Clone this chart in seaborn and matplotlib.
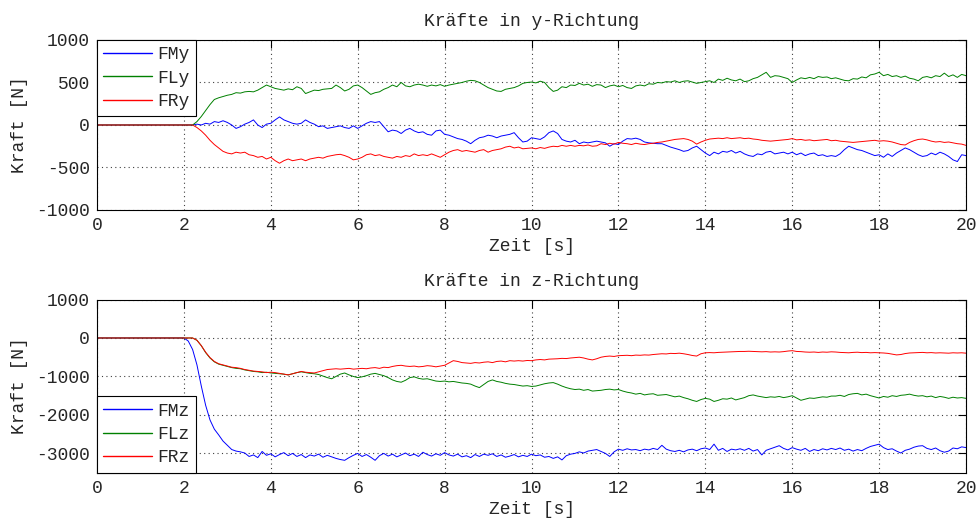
import numpy as np
import pandas as pd
import matplotlib
matplotlib.use("Agg")
import matplotlib.pyplot as plt
import seaborn as sns

# Zeitachse: 0 s und danach 2.0 ... 20.0 s in 0.1 s Schritten
zeit = np.concatenate([[0.0], np.round(np.arange(2.0, 20.05, 0.1), 1)])

# Kräfte in y-Richtung [N], Werte ab t = 2.0 s (vorher 0)
FMy = [0, 0, 0, 10, 0, 20, 10, 40, 30, 50,
       30, 0, -40, -20, 10, 30, 60, 0, -30, 10,
       20, 60, 95, 60, 40, 20, 10, 20, 60, 30,
       10, -20, -10, -40, -30, -20, -10, -30, -40, -10,
       -40, -10, 20, 40, 30, 40, -20, -80, -60, -70,
       -100, -60, -40, -70, -90, -80, -110, -120, -70, -60,
       -110, -120, -140, -160, -170, -190, -220, -180, -150, -140,
       -120, -130, -150, -130, -120, -110, -90, -150, -200, -190,
       -150, -160, -170, -140, -90, -70, -100, -170, -190, -200,
       -180, -220, -200, -210, -200, -190, -200, -210, -250, -220,
       -230, -190, -160, -165, -155, -170, -200, -210, -215, -220,
       -220, -240, -260, -275, -290, -310, -300, -270, -250, -290,
       -330, -360, -320, -340, -310, -320, -300, -330, -310, -340,
       -360, -370, -340, -350, -320, -310, -340, -330, -320, -340,
       -320, -350, -330, -360, -340, -330, -360, -350, -370, -360,
       -370, -340, -290, -250, -270, -290, -300, -320, -340, -360,
       -350, -380, -340, -370, -330, -300, -270, -290, -320, -350,
       -370, -360, -330, -350, -320, -340, -370, -410, -430, -350,
       -360]
FLy = [0, 0, 0, 40, 100, 170, 240, 300, 320, 335,
       350, 360, 380, 375, 390, 395, 390, 410, 440, 470,
       450, 430, 420, 410, 425, 415, 450, 430, 370, 390,
       410, 405, 420, 425, 430, 470, 440, 400, 420, 460,
       470, 440, 400, 360, 380, 390, 420, 440, 470, 450,
       500, 460, 450, 470, 480, 470, 455, 470, 460, 475,
       455, 470, 480, 490, 500, 515, 525, 520, 500, 470,
       440, 420, 400, 395, 420, 430, 440, 460, 490, 500,
       505, 495, 515, 500, 440, 395, 410, 450, 440, 470,
       465, 490, 470, 480, 455, 475, 470, 440, 460, 470,
       450, 465, 440, 430, 460, 470, 460, 485, 480, 500,
       495, 510, 505, 520, 500, 515, 520, 505, 490, 500,
       510, 520, 500, 540, 525, 550, 530, 520, 540, 510,
       520, 545, 560, 590, 620, 560, 580, 575, 560, 545,
       500, 530, 555, 545, 560, 545, 570, 560, 565, 545,
       555, 540, 525, 520, 545, 540, 565, 555, 590, 600,
       620, 580, 595, 570, 580, 560, 575, 550, 540, 520,
       560, 570, 555, 580, 570, 610, 570, 590, 560, 595,
       580]
FRy = [0, 0, 0, -30, -70, -120, -180, -230, -270, -310,
       -330, -340, -320, -330, -320, -350, -360, -380, -370, -400,
       -380, -420, -450, -420, -400, -420, -410, -400, -420, -400,
       -390, -380, -390, -370, -360, -350, -345, -360, -380, -410,
       -400, -380, -350, -340, -360, -350, -370, -380, -390, -370,
       -380, -360, -370, -340, -360, -350, -360, -340, -360, -380,
       -350, -320, -300, -290, -310, -300, -310, -320, -300, -290,
       -320, -300, -290, -280, -260, -250, -270, -260, -280, -275,
       -270, -280, -265, -275, -260, -250, -255, -240, -250, -240,
       -250, -240, -245, -235, -250, -245, -220, -230, -215, -225,
       -205, -215, -220, -230, -215, -225, -230, -220, -215, -205,
       -200, -190, -180, -170, -165, -160, -170, -190, -225, -200,
       -180, -165, -160, -155, -160, -150, -160, -155, -150, -160,
       -155, -165, -170, -180, -185, -190, -185, -180, -175, -170,
       -160, -175, -170, -180, -175, -185, -180, -175, -170, -185,
       -180, -190, -195, -200, -205, -200, -195, -190, -185, -180,
       -190, -185, -190, -200, -215, -230, -235, -205, -185, -170,
       -165, -175, -190, -200, -195, -205, -200, -210, -220, -225,
       -240]

# Kräfte in z-Richtung [N], Werte ab t = 2.0 s (vorher 0)
FMz = [0, -80, -300, -700, -1250, -1750, -2130, -2370, -2520, -2680,
       -2790, -2900, -2940, -2960, -2990, -3080, -3040, -3110, -2950, -3050,
       -3010, -3090, -3030, -2980, -3060, -3000, -3080, -3030, -3110, -3040,
       -3070, -3020, -3100, -3050, -3090, -3130, -3160, -3180, -3110, -3050,
       -3000, -3080, -3030, -3100, -3180, -3060, -3000, -3070, -3020, -3090,
       -3040, -2990, -3060, -3020, -3080, -2970, -3030, -3070, -3010, -3050,
       -2980, -3040, -3070, -3020, -3090, -3060, -3110, -3030, -3080, -3020,
       -3050, -3010, -3080, -3040, -3100, -3070, -3030, -3090, -3050, -3080,
       -3020, -3060, -3040, -3100, -3080, -3130, -3090, -3170, -3060, -3020,
       -3000, -2960, -2990, -2940, -2920, -2900, -2950, -3000, -3080, -2960,
       -2890, -2920, -2880, -2910, -2900, -2930, -2890, -2910, -2870, -2900,
       -2790, -2890, -2930, -2950, -2920, -2960, -2910, -2890, -2930, -2880,
       -2860, -2900, -2760, -2920, -2870, -2950, -2890, -2910, -2880, -2920,
       -2870, -2940, -2900, -3040, -2920, -2880, -2840, -2800, -2870, -2910,
       -2850, -2890, -2920, -2870, -2950, -2900, -2930, -2880, -2910, -2870,
       -2900, -2860, -2920, -2890, -2940, -2900, -2930, -2870, -2820, -2790,
       -2760, -2850, -2900, -2880, -2940, -2990, -2920, -2890, -2840, -2810,
       -2800, -2870, -2900, -2860, -2930, -2970, -2940, -2860, -2880, -2830,
       -2850]
FLz = [0, 0, 0, -60, -200, -380, -520, -620, -680, -710,
       -740, -770, -790, -800, -830, -850, -870, -880, -900, -890,
       -910, -920, -930, -940, -960, -930, -900, -880, -900, -920,
       -930, -950, -990, -1030, -1060, -1000, -940, -910, -960, -1000,
       -1030, -1010, -980, -940, -920, -950, -980, -1030, -1090, -1130,
       -1150, -1100, -1030, -1010, -1050, -1070, -1060, -1090, -1120, -1130,
       -1120, -1140, -1130, -1150, -1170, -1180, -1200, -1250, -1290, -1210,
       -1130, -1090, -1130, -1150, -1180, -1200, -1210, -1230, -1250, -1240,
       -1260, -1250, -1220, -1190, -1170, -1160, -1200, -1250, -1290, -1320,
       -1340, -1330, -1360, -1340, -1380, -1370, -1360, -1340, -1330, -1350,
       -1340, -1380, -1410, -1430, -1460, -1440, -1480, -1460, -1450, -1490,
       -1480, -1470, -1500, -1530, -1510, -1550, -1580, -1620, -1650, -1600,
       -1570, -1590, -1650, -1620, -1580, -1590, -1560, -1610, -1580, -1550,
       -1500, -1480, -1510, -1530, -1550, -1530, -1540, -1520, -1550, -1530,
       -1500, -1560, -1620, -1590, -1560, -1570, -1550, -1530, -1540, -1510,
       -1510, -1490, -1520, -1470, -1450, -1440, -1480, -1460, -1500, -1530,
       -1560, -1520, -1540, -1500, -1520, -1490, -1480, -1460, -1490, -1510,
       -1500, -1530, -1510, -1550, -1520, -1540, -1570, -1540, -1560, -1550,
       -1570]
FRz = [0, 0, 0, -60, -200, -370, -510, -610, -670, -700,
       -730, -760, -770, -790, -820, -840, -860, -870, -880, -900,
       -890, -900, -920, -940, -960, -930, -900, -870, -890, -900,
       -910, -880, -850, -820, -810, -800, -810, -800, -790, -810,
       -800, -790, -800, -780, -770, -790, -760, -770, -740, -720,
       -710, -730, -740, -730, -750, -740, -720, -730, -750, -730,
       -710, -650, -590, -610, -640, -650, -660, -640, -650, -630,
       -620, -640, -610, -600, -620, -590, -600, -590, -600, -585,
       -590, -570, -560, -570, -550, -545, -540, -530, -535, -520,
       -510, -500, -520, -550, -570, -540, -500, -480, -470, -480,
       -460, -455, -450, -460, -445, -450, -440, -445, -430, -420,
       -410, -415, -400, -405, -395, -410, -430, -455, -470, -410,
       -385, -380, -385, -375, -370, -365, -360, -355, -350, -350,
       -345, -350, -355, -360, -355, -365, -360, -365, -355, -340,
       -330, -350, -355, -365, -370, -365, -375, -365, -370, -360,
       -365, -375, -380, -385, -375, -370, -380, -375, -385, -380,
       -385, -390, -400, -420, -440, -430, -405, -390, -385, -380,
       -375, -385, -380, -390, -385, -390, -395, -385, -390, -385,
       -395]

farben = {"FMy": "#0000ff", "FLy": "#008000", "FRy": "#ff0000",
          "FMz": "#0000ff", "FLz": "#008000", "FRz": "#ff0000"}

def lang(serien):
    teile = []
    for name, werte in serien.items():
        teile.append(pd.DataFrame({"Zeit": zeit, "Kraft": [0] + list(werte), "Signal": name}))
    return pd.concat(teile, ignore_index=True)

df_y = lang({"FMy": FMy, "FLy": FLy, "FRy": FRy})
df_z = lang({"FMz": FMz, "FLz": FLz, "FRz": FRz})

sns.set_theme(style="white")
plt.rcParams["font.family"] = ["Liberation Mono", "DejaVu Sans Mono"]
plt.rcParams["axes.unicode_minus"] = False
plt.rcParams["font.size"] = 13

fig = plt.figure(figsize=(9.76, 5.18), dpi=100)
ax1 = fig.add_axes([0.0994, 0.5946, 0.8904, 0.3282])
ax2 = fig.add_axes([0.0994, 0.0876, 0.8904, 0.3342])

def panel(ax, df, titel, ylim, yticks, legend_loc):
    sns.lineplot(data=df, x="Zeit", y="Kraft", hue="Signal", palette=farben,
                 hue_order=list(df["Signal"].unique()), linewidth=0.7,
                 estimator=None, ax=ax)
    ax.set_xlim(0, 20)
    ax.set_ylim(*ylim)
    ax.set_xticks(range(0, 21, 2))
    ax.set_yticks(yticks)
    ax.set_title(titel, fontsize=13, pad=10)
    ax.set_xlabel("Zeit [s]", fontsize=13, labelpad=3)
    ax.set_ylabel("Kraft [N]", fontsize=13, labelpad=6)
    ax.tick_params(direction="in", top=True, right=True, length=6,
                   width=0.8, labelsize=13, pad=5, color="black")
    ax.grid(True, linestyle=(0, (1, 3)), color="0.25", linewidth=0.8)
    for s in ax.spines.values():
        s.set_color("black")
        s.set_linewidth(0.8)
    leg = ax.legend(loc=legend_loc, borderaxespad=0, fontsize=13,
                    handlelength=2.7, handletextpad=0.3, labelspacing=0.35,
                    borderpad=0.35, fancybox=False, framealpha=1,
                    edgecolor="black")
    leg.get_frame().set_linewidth(0.8)
    for l in leg.get_lines():
        l.set_linewidth(1.0)

panel(ax1, df_y, "Kräfte in y-Richtung", (-1000, 1000), [-1000, -500, 0, 500, 1000], "upper left")
panel(ax2, df_z, "Kräfte in z-Richtung", (-3500, 1000), [-3000, -2000, -1000, 0, 1000], "lower left")

fig.savefig("out.png", dpi=100)
